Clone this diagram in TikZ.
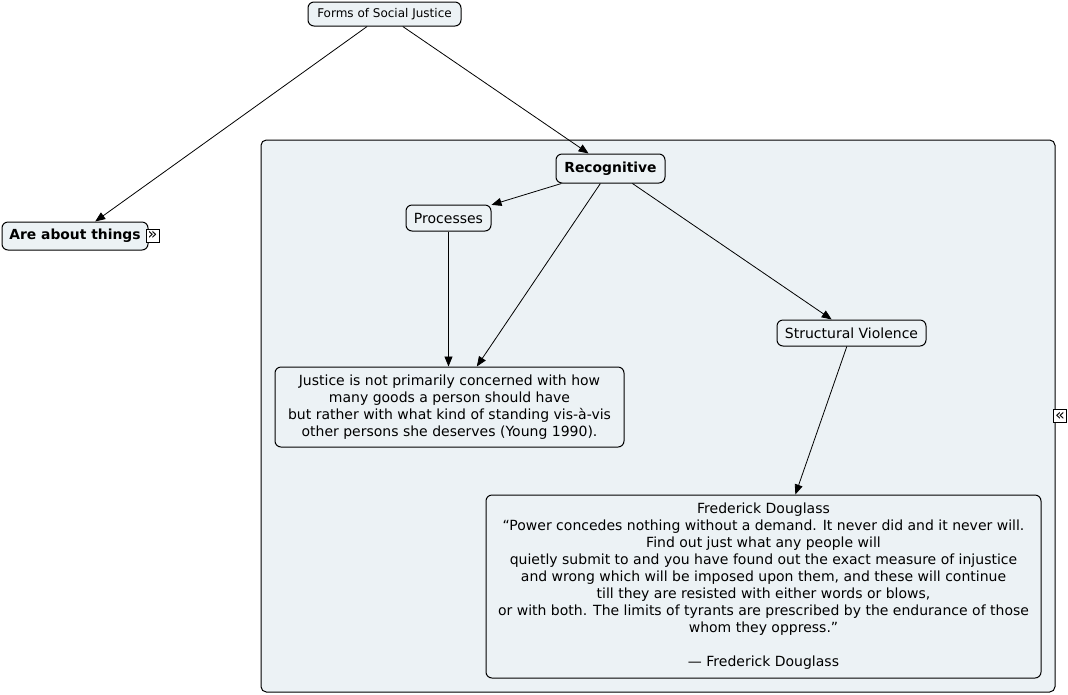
\documentclass[tikz,border=0pt]{standalone}
\usepackage{fontspec}
\setmainfont{DejaVu Sans}
\usetikzlibrary{arrows.meta}
\definecolor{bg}{RGB}{236,242,245}
\begin{document}
\begin{tikzpicture}[x=0.75pt,y=-0.75pt,
 box/.style={draw=black, fill=bg, rounded corners=4.5pt, inner sep=0pt, align=center, line width=0.75pt, font=\fontsize{10.5}{12.75}\selectfont},
 bbox/.style={box, font=\fontsize{10.4}{12.75}\selectfont\bfseries},
 icon/.style={draw=black, fill=white, inner sep=0pt, minimum size=9.75pt, line width=0.6pt, font=\fontsize{12}{12}\selectfont},
 arr/.style={-{Triangle[length=7.5pt,width=6pt]}, line width=0.6pt}
]
\useasboundingbox (0,0) rectangle (1068,694);
\node[draw=black, fill=bg, rounded corners=4pt, line width=0.75pt, minimum width=595.5pt, minimum height=414pt, inner sep=0pt] (grp) at (658,416) {};

\node[box, font=\fontsize{9}{10}\selectfont, minimum width=114.75pt, minimum height=18pt] (forms) at (384.5,14) {Forms of Social Justice};
\node[bbox, minimum width=109.5pt, minimum height=21pt] (about) at (75,236) {Are about things};
\node[bbox, minimum width=81.75pt, minimum height=21.75pt] (recog) at (610.5,168.5) {Recognitive};
\node[box, minimum width=63.75pt, minimum height=19.5pt] (proc) at (448.5,218) {Processes};
\node[box, minimum width=111.75pt, minimum height=19.5pt] (struct) at (851.5,333) {Structural Violence};
\node[box, minimum width=261.75pt, minimum height=60pt] (just) at (449.5,407) {Justice is not primarily concerned with how\\ many goods a person should have\\ but rather with what kind of standing vis-à-vis\\ other persons she deserves (Young 1990).};
\node[box, minimum width=416.25pt, minimum height=137.25pt] (doug) at (763.5,586.5) {Frederick Douglass\\ “Power concedes nothing without a demand. It never did and it never will.\\ Find out just what any people will\\ quietly submit to and you have found out the exact measure of injustice\\ and wrong which will be imposed upon them, and these will continue\\ till they are resisted with either words or blows,\\ or with both. The limits of tyrants are prescribed by the endurance of those\\ whom they oppress.”\\ ~\\ — Frederick Douglass};

\node[icon] (iconA) at (152.5,235.5) {»};
\node[icon] (iconB) at (1060,416) {«};

\draw[arr] (forms) -- (about);
\draw[arr] (forms) -- (recog);
\draw[arr] (recog) -- (proc);
\draw[arr] (recog) -- (just);
\draw[arr] (recog) -- (struct);
\draw[arr] (proc.south) -- (proc.south |- just.north);
\draw[arr] (struct) -- (doug);
\end{tikzpicture}
\end{document}
